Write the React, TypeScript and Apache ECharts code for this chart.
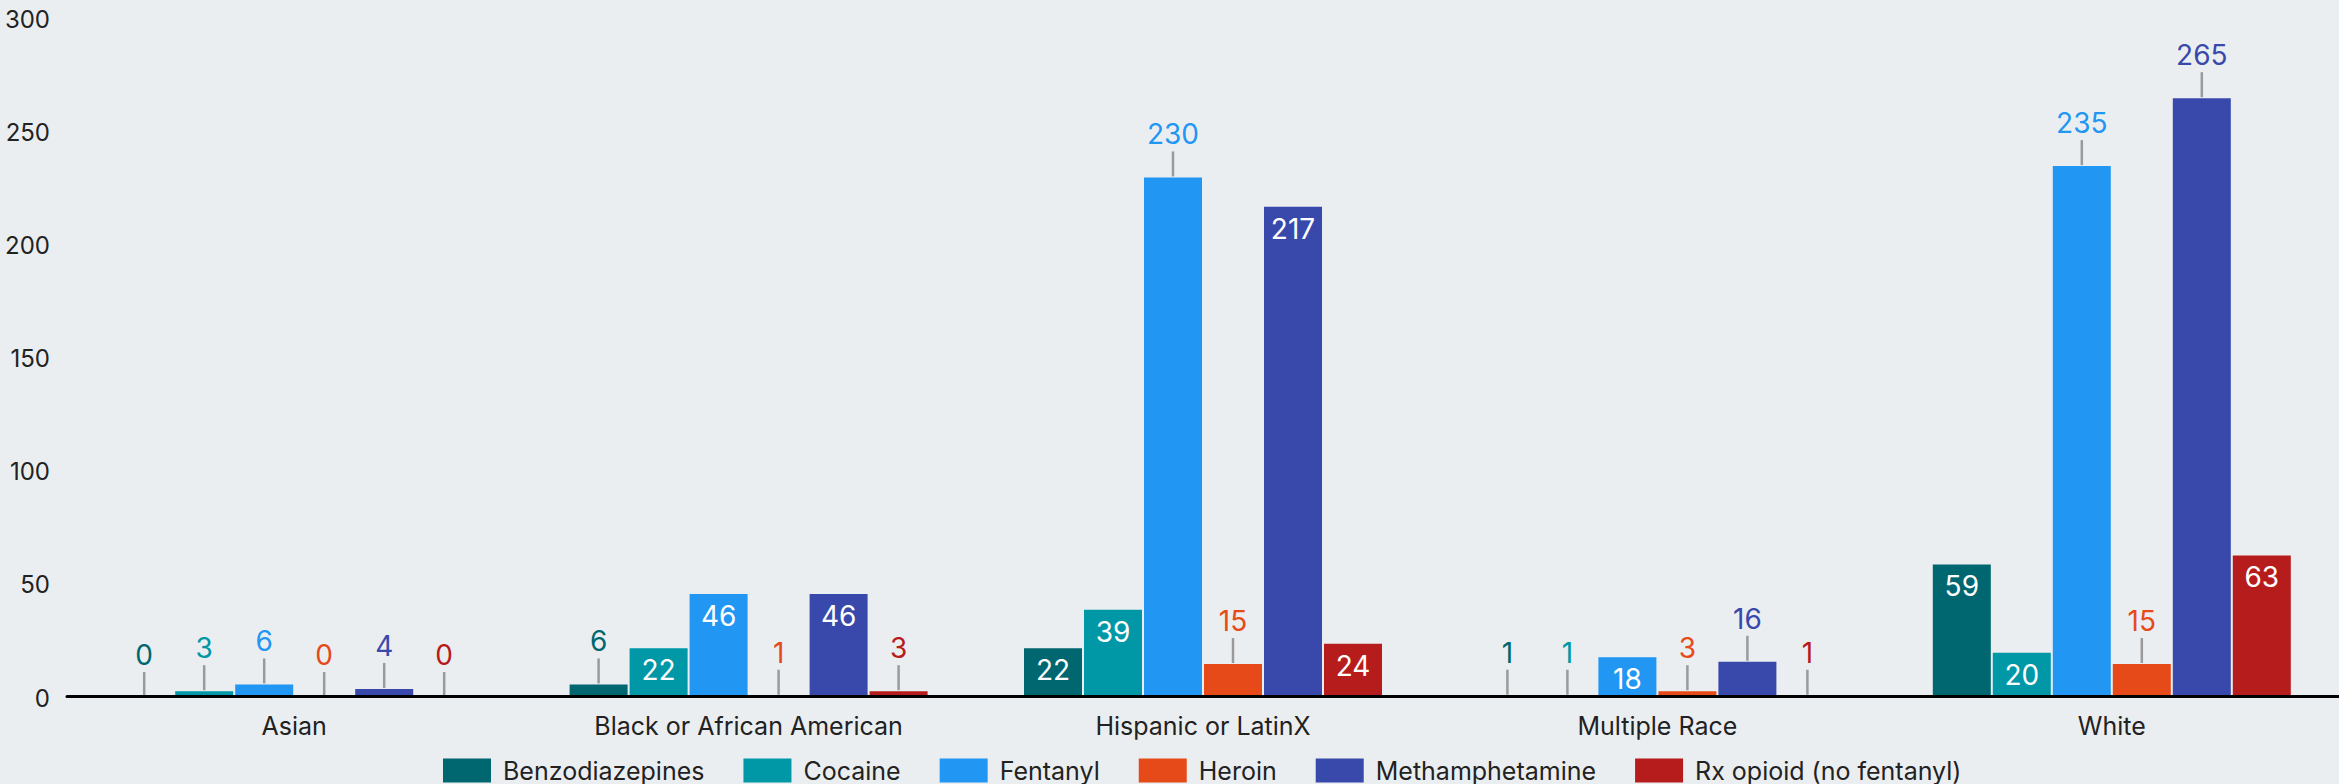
import React, { useEffect, useRef } from "react";
import * as echarts from "echarts";

const categories = ["Asian", "Black or African American", "Hispanic or LatinX", "Multiple Race", "White"];
const seriesNames = ["Benzodiazepines", "Cocaine", "Fentanyl", "Heroin", "Methamphetamine", "Rx opioid (no fentanyl)"];
const benzodiazepines = [0, 6, 22, 1, 59];
const cocaine = [3, 22, 39, 1, 20];
const fentanyl = [6, 46, 230, 18, 235];
const heroin = [0, 1, 15, 3, 15];
const methamphetamine = [4, 46, 217, 16, 265];
const rxOpioid = [0, 3, 24, 1, 63];
const yTicks = [0, 50, 100, 150, 200, 250, 300];

// which value labels sit above their bar with a leader line
const outsideBenzo = [true, true, false, true, false];
const outsideCocaine = [true, false, false, true, false];
const outsideFentanyl = [true, false, true, false, true];
const outsideHeroin = [true, true, true, true, true];
const outsideMeth = [true, false, false, true, true];
const outsideRx = [true, true, false, true, false];

const allValues = [benzodiazepines, cocaine, fentanyl, heroin, methamphetamine, rxOpioid];
const allOutside = [outsideBenzo, outsideCocaine, outsideFentanyl, outsideHeroin, outsideMeth, outsideRx];
const colors = ["#00666f", "#0097a7", "#2196f3", "#e64a19", "#3949ab", "#b71c1c"];

const FONT = "Inter";
const BAR_W = 58;
const BAR_GAP = 2;

export default function App() {
  const ref = useRef<HTMLDivElement>(null);
  useEffect(() => {
    if (!ref.current) return;
    const chart = echarts.init(ref.current, null, { renderer: "svg" });
    const barSeries = seriesNames.map((name, si) => ({
      name,
      type: "bar",
      barWidth: BAR_W,
      barGap: ((BAR_GAP / BAR_W) * 100).toFixed(2) + "%",
      itemStyle: { color: colors[si] },
      data: allValues[si].map((v, ci) => ({
        value: v,
        label: allOutside[si][ci]
          ? { show: true, position: "top", distance: 29, color: colors[si] }
          : { show: true, position: "insideTop", distance: 8, color: "#ffffff" },
      })),
      label: { show: true, fontFamily: FONT, fontSize: 28 },
      z: 2,
    }));
    const leaderData: number[][] = [];
    allValues.forEach((vals, si) =>
      vals.forEach((v, ci) => {
        if (allOutside[si][ci]) leaderData.push([ci, v, si]);
      })
    );
    const leaderSeries = {
      type: "custom",
      name: "leaders",
      data: leaderData,
      encode: { x: 0, y: 1 },
      z: 3,
      silent: true,
      renderItem: (params: any, api: any) => {
        const ci = api.value(0);
        const v = api.value(1);
        const si = api.value(2);
        const p = api.coord([ci, v]);
        const x = p[0] + (si - 2.5) * (BAR_W + BAR_GAP);
        return {
          type: "line",
          shape: { x1: x, y1: p[1] - 1, x2: x, y2: p[1] - 26 },
          style: { stroke: "#9a9a9a", lineWidth: 2.5 },
        };
      },
    };
    chart.setOption({
      animation: false,
      backgroundColor: "#ebeef1",
      textStyle: { fontFamily: FONT },
      grid: { left: 67, right: 0, top: 19, bottom: 86, containLabel: false },
      legend: {
        data: seriesNames,
        top: 753,
        left: 438,
        itemWidth: 48,
        itemHeight: 24,
        itemGap: 39,
        icon: "rect",
        textStyle: { fontFamily: FONT, fontSize: 25, color: "#222", padding: [0, 0, 0, 7] },
      },
      xAxis: {
        type: "category",
        data: categories,
        z: 5,
        offset: -1.5,
        axisLine: { lineStyle: { color: "#000", width: 3 } },
        axisTick: { show: false },
        axisLabel: { fontFamily: FONT, fontSize: 25, color: "#222", margin: 17 },
      },
      yAxis: {
        type: "value",
        min: yTicks[0],
        max: yTicks[yTicks.length - 1],
        interval: yTicks[1] - yTicks[0],
        splitLine: { show: false },
        axisLine: { show: false },
        axisTick: { show: false },
        axisLabel: { fontFamily: FONT, fontSize: 24, color: "#222", margin: 17 },
      },
      series: [...barSeries, leaderSeries],
    });
    return () => chart.dispose();
  }, []);
  return <div ref={ref} style={{ position: "fixed", left: 0, top: 0, width: 2339, height: 784 }} />;
}
